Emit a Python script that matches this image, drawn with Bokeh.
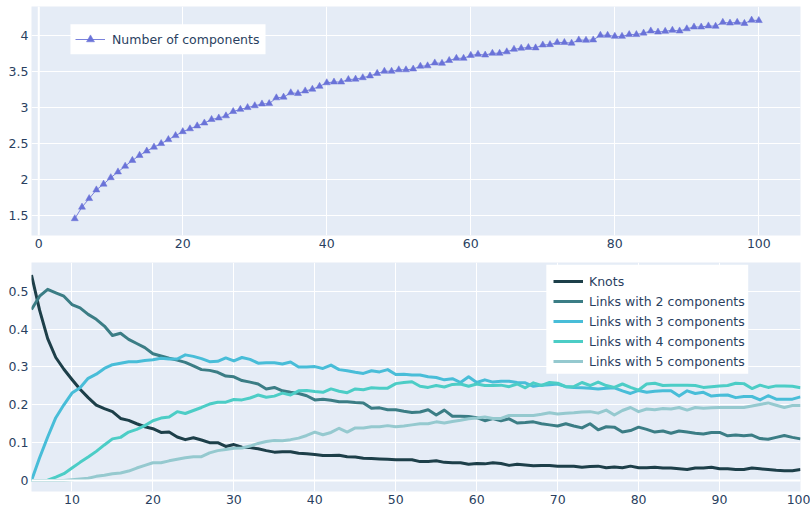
from bokeh.plotting import figure
from bokeh.layouts import column
from bokeh.models import (Range1d, FixedTicker, CustomJSTickFormatter, Legend,
                          LegendItem, Span, ColumnDataSource, BoxAnnotation)
from bokeh.embed import file_html
from bokeh.resources import INLINE

# ---------------- data ----------------
crossings = list(range(5, 101))

n_components = [1.46, 1.62, 1.74, 1.86, 1.94, 2.03, 2.11, 2.19, 2.27, 2.34, 2.40, 2.455, 2.505, 2.56, 2.615, 2.67,
                2.71, 2.75, 2.79, 2.84, 2.86, 2.89, 2.95, 2.98, 3.005, 3.03, 3.055, 3.06, 3.14, 3.15, 3.21, 3.20,
                3.236, 3.26, 3.30, 3.35, 3.36, 3.36, 3.395, 3.40, 3.42, 3.445, 3.48, 3.51, 3.51, 3.53, 3.53, 3.54,
                3.58, 3.585, 3.625, 3.62, 3.66, 3.69, 3.69, 3.73, 3.745, 3.735, 3.76, 3.76, 3.78, 3.815, 3.83, 3.84,
                3.835, 3.875, 3.88, 3.91, 3.91, 3.90, 3.945, 3.94, 3.945, 4.01, 4.01, 3.995, 3.995, 4.02, 4.02, 4.04,
                4.07, 4.055, 4.065, 4.08, 4.07, 4.10, 4.125, 4.125, 4.14, 4.135, 4.19, 4.18, 4.19, 4.175, 4.22, 4.215]

knots = [0.543, 0.45, 0.375, 0.325, 0.294, 0.267, 0.241, 0.219, 0.199, 0.19, 0.182, 0.164, 0.159, 0.150, 0.142, 0.137,
         0.127, 0.128, 0.115, 0.108, 0.113, 0.107, 0.10, 0.10, 0.09, 0.095, 0.088, 0.087, 0.084, 0.079, 0.075, 0.076,
         0.076, 0.072, 0.071, 0.069, 0.066, 0.066, 0.067, 0.063, 0.062, 0.059, 0.058, 0.057, 0.056, 0.055, 0.055, 0.055,
         0.05, 0.05, 0.052, 0.048, 0.047, 0.047, 0.043, 0.045, 0.044, 0.047, 0.045, 0.04, 0.043, 0.041, 0.039, 0.04,
         0.04, 0.038, 0.038, 0.038, 0.035, 0.037, 0.038, 0.034, 0.036, 0.034, 0.038, 0.034, 0.034, 0.035, 0.033, 0.033,
         0.031, 0.029, 0.033, 0.033, 0.035, 0.031, 0.031, 0.029, 0.029, 0.033, 0.031, 0.029, 0.027, 0.026, 0.026, 0.029]

links2 = [0.452, 0.487, 0.505, 0.496, 0.487, 0.465, 0.456, 0.439, 0.426, 0.408, 0.383, 0.389, 0.373, 0.362, 0.351, 0.335,
          0.329, 0.323, 0.318, 0.312, 0.303, 0.293, 0.291, 0.286, 0.276, 0.274, 0.264, 0.26, 0.255, 0.242, 0.246, 0.237,
          0.233, 0.23, 0.224, 0.213, 0.215, 0.212, 0.208, 0.208, 0.206, 0.205, 0.191, 0.192, 0.187, 0.187, 0.183, 0.18,
          0.181, 0.187, 0.173, 0.186, 0.17, 0.17, 0.169, 0.166, 0.158, 0.164, 0.158, 0.163, 0.152, 0.153, 0.155, 0.15,
          0.147, 0.144, 0.15, 0.144, 0.139, 0.15, 0.134, 0.142, 0.141, 0.128, 0.132, 0.141, 0.135, 0.128, 0.131, 0.125,
          0.131, 0.128, 0.125, 0.123, 0.127, 0.127, 0.118, 0.12, 0.118, 0.12, 0.111, 0.109, 0.114, 0.119, 0.114, 0.11]

links3 = [0.0, 0.06, 0.115, 0.166, 0.2, 0.231, 0.245, 0.27, 0.281, 0.296, 0.306, 0.31, 0.314, 0.314, 0.317, 0.319,
          0.323, 0.321, 0.321, 0.332, 0.328, 0.322, 0.314, 0.315, 0.324, 0.316, 0.325, 0.32, 0.31, 0.311, 0.311, 0.308,
          0.313, 0.30, 0.30, 0.301, 0.296, 0.305, 0.293, 0.29, 0.286, 0.283, 0.29, 0.287, 0.293, 0.28, 0.281, 0.279,
          0.279, 0.274, 0.272, 0.266, 0.269, 0.259, 0.274, 0.259, 0.266, 0.26, 0.262, 0.262, 0.259, 0.258, 0.249, 0.252,
          0.253, 0.255, 0.248, 0.246, 0.245, 0.244, 0.242, 0.244, 0.245, 0.237, 0.23, 0.238, 0.233, 0.236, 0.237, 0.237,
          0.223, 0.237, 0.23, 0.233, 0.223, 0.225, 0.226, 0.219, 0.222, 0.222, 0.213, 0.224, 0.215, 0.215, 0.215, 0.221]

links4 = [0.0, 0.0, 0.001, 0.009, 0.018, 0.033, 0.048, 0.062, 0.077, 0.094, 0.11, 0.114, 0.128, 0.135, 0.145, 0.158,
          0.165, 0.168, 0.182, 0.177, 0.185, 0.193, 0.202, 0.207, 0.207, 0.214, 0.213, 0.218, 0.226, 0.22, 0.223, 0.231,
          0.226, 0.237, 0.238, 0.235, 0.233, 0.242, 0.236, 0.232, 0.242, 0.24, 0.245, 0.244, 0.244, 0.256, 0.259, 0.261,
          0.249, 0.246, 0.251, 0.247, 0.254, 0.255, 0.249, 0.255, 0.251, 0.251, 0.252, 0.248, 0.255, 0.245, 0.258, 0.251,
          0.259, 0.257, 0.248, 0.248, 0.259, 0.251, 0.26, 0.251, 0.246, 0.255, 0.246, 0.239, 0.255, 0.257, 0.251, 0.252,
          0.252, 0.252, 0.251, 0.246, 0.248, 0.25, 0.251, 0.257, 0.256, 0.243, 0.252, 0.246, 0.25, 0.25, 0.249, 0.245]

links5 = [0.0, 0.0, 0.0, 0.0, 0.0, 0.002, 0.004, 0.006, 0.011, 0.014, 0.018, 0.02, 0.025, 0.033, 0.04, 0.047,
          0.047, 0.052, 0.056, 0.06, 0.063, 0.063, 0.073, 0.079, 0.082, 0.085, 0.086, 0.091, 0.098, 0.103, 0.106, 0.105,
          0.108, 0.112, 0.119, 0.128, 0.121, 0.127, 0.138, 0.128, 0.139, 0.139, 0.142, 0.142, 0.145, 0.142, 0.144, 0.147,
          0.15, 0.15, 0.155, 0.152, 0.156, 0.159, 0.163, 0.165, 0.168, 0.164, 0.164, 0.172, 0.172, 0.172, 0.172, 0.175,
          0.179, 0.176, 0.178, 0.179, 0.181, 0.182, 0.178, 0.186, 0.173, 0.185, 0.193, 0.182, 0.189, 0.187, 0.19, 0.189,
          0.193, 0.186, 0.193, 0.191, 0.192, 0.193, 0.193, 0.193, 0.193, 0.197, 0.201, 0.205, 0.199, 0.193, 0.198, 0.198]

series_names = ["Knots", "Links with 2 components", "Links with 3 components",
                "Links with 4 components", "Links with 5 components"]
series_colors = ["#1d3f49", "#3b7d85", "#48bdd8", "#4ccdc6", "#95c9cf"]

top_x_ticks = [0, 20, 40, 60, 80, 100]
top_y_ticks = [1.5, 2, 2.5, 3, 3.5, 4]
bot_x_ticks = [10, 20, 30, 40, 50, 60, 70, 80, 90, 100]
bot_y_ticks = [0, 0.1, 0.2, 0.3, 0.4, 0.5]

FONT = "DejaVu Sans"
FSIZE = "12.5px"
TXT = "#2a3f5f"
BG = "#e5ecf6"

fmt_code = "return String(Math.round(tick * 1000) / 1000)"


def style(p, xt, yt):
    p.background_fill_color = BG
    p.border_fill_color = "white"
    p.outline_line_color = None
    for ax in (p.xaxis[0], p.yaxis[0]):
        ax.axis_line_color = None
        ax.major_tick_line_color = None
        ax.minor_tick_line_color = None
        ax.major_tick_out = 0
        ax.major_tick_in = 0
        ax.minor_tick_out = 0
        ax.major_label_text_font = FONT
        ax.major_label_text_font_size = FSIZE
        ax.major_label_text_color = TXT
        ax.major_label_standoff = 3
        ax.formatter = CustomJSTickFormatter(code=fmt_code)
    p.xaxis[0].ticker = FixedTicker(ticks=xt)
    p.yaxis[0].ticker = FixedTicker(ticks=yt)
    for g in (p.xgrid[0], p.ygrid[0]):
        g.grid_line_color = "white"
        g.grid_line_width = 1
        g.minor_grid_line_color = None


def legend_box(p, left, right, bottom, top):
    p.add_layout(BoxAnnotation(left=left, right=right, bottom=bottom, top=top,
                               fill_color="white", fill_alpha=1, line_color=None))


# ---------------- top figure ----------------
p1 = figure(width=810, height=262, output_backend="svg", toolbar_location=None,
            x_range=Range1d(-1.01, 105.79), y_range=Range1d(1.226, 4.41),
            min_border_left=31, min_border_right=10, min_border_top=6, min_border_bottom=27)
style(p1, top_x_ticks, top_y_ticks)
p1.add_layout(Span(location=0, dimension="height", line_color="white", line_width=2), "center")

src1 = ColumnDataSource(dict(x=crossings, y=n_components))
l1 = p1.line("x", "y", source=src1, line_color="#7a82dc", line_width=1)
s1 = p1.scatter("x", "y", source=src1, marker="triangle", size=7,
                fill_color="#6a73d8", line_color="#6a73d8", line_width=0.5)
legend_box(p1, 4.40, 31.49, 3.746, 4.1625)
leg1 = Legend(items=[LegendItem(label="Number of components", renderers=[l1, s1])],
              location=(44, 186), background_fill_alpha=0,
              border_line_color=None, padding=0, spacing=0, margin=0,
              label_text_font=FONT, label_text_font_size=FSIZE, label_text_color=TXT,
              label_height=20, glyph_height=20, glyph_width=30, label_standoff=7)
p1.add_layout(leg1, "center")

# ---------------- bottom figure ----------------
p2 = figure(width=810, height=246, output_backend="svg", toolbar_location=None,
            x_range=Range1d(5, 100), y_range=Range1d(-0.029, 0.576),
            min_border_left=31, min_border_right=10, min_border_top=0, min_border_bottom=17)
style(p2, bot_x_ticks, bot_y_ticks)
p2.add_layout(Span(location=0, dimension="width", line_color="white", line_width=2), "center")

series = [knots, links2, links3, links4, links5]
items = []
for name, col, vals in zip(series_names, series_colors, series):
    r = p2.line(crossings, vals, line_color=col, line_width=3, line_join="round")
    items.append(LegendItem(label=name, renderers=[r]))
legend_box(p2, 68.6, 93.54, 0.2823, 0.5699)
leg2 = Legend(items=items, location=(522, 120), background_fill_alpha=0,
              border_line_color=None, padding=0, spacing=0, margin=0,
              label_text_font=FONT, label_text_font_size=FSIZE, label_text_color=TXT,
              label_height=20, glyph_height=20, glyph_width=30, label_standoff=6)
p2.add_layout(leg2, "center")

layout = column(p1, p2, spacing=0)
open("out.html", "w").write(file_html(layout, INLINE))
